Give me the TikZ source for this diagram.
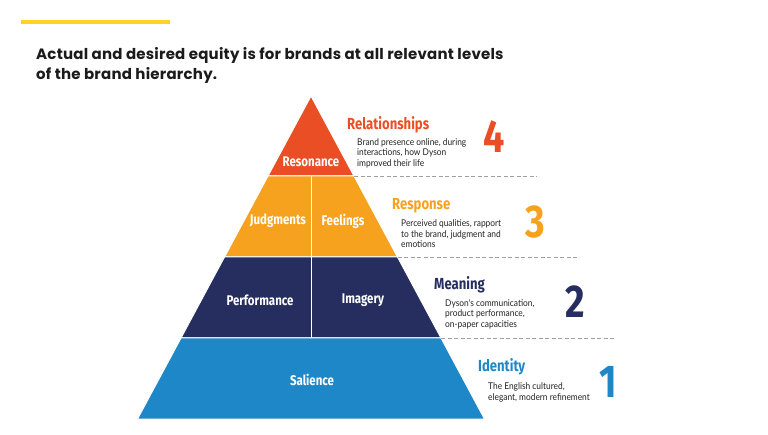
\documentclass[tikz,border=0pt]{standalone}
\usepackage{fontspec}
\usetikzlibrary{positioning}
\setmainfont{Fira Sans}
\newfontfamily\titlefont{Poppins}[LetterSpace=1.5]
\newfontfamily\condfont{Fira Sans}[FakeStretch=0.82]
\newfontfamily\descfont{Lato}[FakeStretch=0.9]
\definecolor{resonred}{HTML}{E94E24}
\definecolor{responorange}{HTML}{F6A21E}
\definecolor{meannavy}{HTML}{252E5E}
\definecolor{identblue}{HTML}{1E87C8}
\definecolor{baryellow}{HTML}{FFD324}
\definecolor{titleblack}{HTML}{1B1B1B}
\definecolor{descgray}{HTML}{222222}
\definecolor{guidegray}{HTML}{A0A0A0}
\tikzset{
  tier/.style={fill=#1, draw=white, line width=1pt},
  tierlabel/.style={text=white, inner sep=0pt,
    font=\condfont\bfseries\fontsize{14}{16}\selectfont},
  head/.style={text=#1, anchor=west, inner sep=0pt,
    font=\condfont\bfseries\fontsize{16}{18}\selectfont},
  desc/.style={text=descgray, align=left, anchor=west, inner sep=0pt,
    font=\descfont\fontsize{9.3}{10.4}\selectfont},
  num/.style={text=#1, inner sep=0pt,
    font=\condfont\bfseries\fontsize{46}{46}\selectfont},
  guide/.style={draw=guidegray, line width=0.9pt, dash pattern=on 4pt off 2.5pt}
}

\begin{document}
\begin{tikzpicture}[x=1pt, y=-1pt]
  \useasboundingbox (0,0) rectangle (768,435);
  % accent bar and title
  \draw[baryellow, line width=3.5pt] (21,22) -- (170,22);
  \node[anchor=west, align=left, inner sep=0pt, text=titleblack,
        font=\titlefont\bfseries\fontsize{15}{20}\selectfont] (title)
    at (36,65) {Actual and desired equity is for brands at all relevant levels\\
                of the brand hierarchy.};

  % pyramid corners
  \coordinate (apex) at (311,96);
  \coordinate (l1) at (268,176);   \coordinate (r1) at (354,176);
  \coordinate (l2) at (224.5,257); \coordinate (r2) at (397.5,257);
  \coordinate (l3) at (181,338);   \coordinate (r3) at (441,338);
  \coordinate (l4) at (137.5,419); \coordinate (r4) at (484.5,419);
  \coordinate (m1) at (311,176);   \coordinate (m3) at (311,338);

  \fill[tier=resonred] (apex) -- (r1) -- (l1) -- cycle;
  \fill[tier=responorange] (l1) -- (r1) -- (r2) -- (l2) -- cycle;
  \fill[tier=meannavy] (l2) -- (r2) -- (r3) -- (l3) -- cycle;
  \fill[tier=identblue] (l3) -- (r3) -- (r4) -- (l4) -- cycle;
  \draw[white, line width=1pt] (m1) -- (m3);

  \node[tierlabel] (resonance) at (311,162) {Resonance};
  \node[tierlabel] (judgments) at (278,221) {Judgments};
  \node[tierlabel] (feelings) at (343,221) {Feelings};
  \node[tierlabel] (performance) at (260,300) {Performance};
  \node[tierlabel] (imagery) at (363,300) {Imagery};
  \node[tierlabel] (salience) at (312,380) {Salience};

  % dashed guides
  \coordinate (g1) at (537,176);
  \coordinate (g2) at (578,257);
  \coordinate (g3) at (616,338);
  \draw[guide] (r1) -- (g1);
  \draw[guide] (r2) -- (g2);
  \draw[guide] (r3) -- (g3);

  % level 4
  \node[head=resonred] (relations) at (347,125) {Relationships};
  \node[desc] (reldesc) at (357,153)
    {Brand presence online, during\\interactions, how Dyson\\improved their life};
  \node[num=resonred] (four) at (494,137) {4};
  % level 3
  \node[head=responorange] (response) at (392,206) {Response};
  \node[desc] (respdesc) at (401,234)
    {Perceived qualities, rapport\\to the brand, judgment and\\emotions};
  \node[num=responorange] (three) at (535,222) {3};
  % level 2
  \node[head=meannavy] (meaning) at (434,285) {Meaning};
  \node[desc] (meandesc) at (445,314)
    {Dyson's communication,\\product performance,\\on-paper capacities};
  \node[num=meannavy] (two) at (575,302) {2};
  % level 1
  \node[head=identblue] (identity) at (478,367) {Identity};
  \node[desc] (identdesc) at (488,392.5)
    {The English cultured,\\elegant, modern refinement};
  \node[num=identblue] (one) at (608,382) {1};
\end{tikzpicture}
\end{document}
